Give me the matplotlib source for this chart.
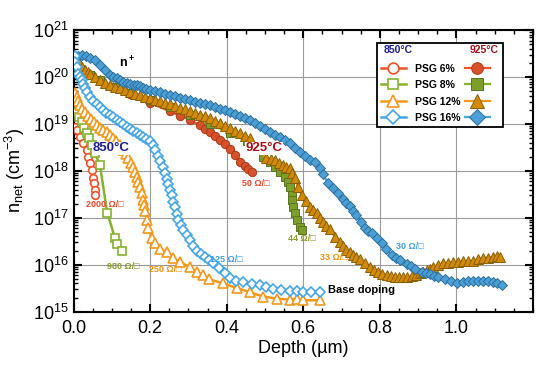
import matplotlib
matplotlib.use("Agg")
import matplotlib.pyplot as plt

plt.rcParams['font.family'] = ['Liberation Sans', 'DejaVu Sans']
plt.rcParams['mathtext.default'] = 'regular'

# depth (um) and net doping (cm^-3)
# 850 C
d6_850 = [0.004, 0.008, 0.017, 0.026, 0.034, 0.039, 0.043, 0.048, 0.052, 0.054, 0.056, 0.056]
n6_850 = [8.5e18, 7.4e18, 5.2e18, 3.9e18, 2.8e18, 2.0e18, 1.45e18, 1.02e18, 6.9e17, 5.5e17, 3.9e17, 3.0e17]

d8_850 = [0.008, 0.015, 0.021, 0.027, 0.034, 0.041, 0.048, 0.056, 0.069, 0.088, 0.108, 0.114, 0.126]
n8_850 = [1.8e19, 1.4e19, 1.1e19, 8.1e18, 6.3e18, 5.0e18, 3.5e18, 2.4e18, 1.32e18, 1.29e17, 3.8e16, 2.8e16, 1.95e16]

d12_850 = [0.004, 0.008, 0.012, 0.017, 0.023, 0.030, 0.038, 0.046, 0.054, 0.061,
           0.069, 0.077, 0.087, 0.095, 0.103, 0.111, 0.121, 0.129, 0.137, 0.143,
           0.150, 0.155, 0.161, 0.165, 0.168, 0.174, 0.178, 0.181, 0.184, 0.187,
           0.191, 0.195, 0.204, 0.213, 0.226, 0.243, 0.260, 0.278, 0.304, 0.322,
           0.338, 0.355, 0.390, 0.426, 0.461, 0.495, 0.531, 0.566, 0.583, 0.599, 0.643]
n12_850 = [4.5e19, 3.7e19, 3.1e19, 2.5e19, 2.1e19, 1.8e19, 1.5e19, 1.26e19, 1.1e19, 9.4e18,
           8.3e18, 7.4e18, 6.7e18, 5.8e18, 5.0e18, 4.3e18, 3.5e18, 2.8e18, 2.3e18, 1.9e18,
           1.46e18, 1.2e18, 9.4e17, 7.3e17, 5.7e17, 4.5e17, 3.3e17, 2.4e17, 1.86e17, 1.38e17,
           8.9e16, 6.0e16, 3.7e16, 2.9e16, 2.2e16, 1.85e16, 1.38e16, 1.13e16, 8.9e15, 7.0e15,
           6.0e15, 4.9e15, 4.0e15, 3.2e15, 2.6e15, 2.1e15, 1.9e15, 1.8e15, 1.9e15, 1.75e15, 1.75e15]

d16_850 = [0.004, 0.005, 0.008, 0.013, 0.017, 0.021, 0.026, 0.030, 0.036, 0.043,
           0.052, 0.061, 0.069, 0.077, 0.086, 0.095, 0.104, 0.113, 0.121, 0.129,
           0.139, 0.148, 0.156, 0.165, 0.173, 0.181, 0.190, 0.200, 0.207, 0.213,
           0.220, 0.226, 0.233, 0.239, 0.244, 0.248, 0.252, 0.256, 0.261, 0.265,
           0.270, 0.274, 0.281, 0.287, 0.296, 0.304, 0.313, 0.322, 0.333, 0.343,
           0.354, 0.364, 0.380, 0.396, 0.408, 0.425, 0.443, 0.465, 0.487, 0.504,
           0.521, 0.543, 0.566, 0.583, 0.599, 0.621, 0.643]
n16_850 = [2.8e20, 2.1e20, 1.6e20, 1.15e20, 1.0e20, 8.6e19, 7.0e19, 5.8e19, 4.7e19, 3.8e19,
           3.1e19, 2.6e19, 2.3e19, 2.0e19, 1.75e19, 1.55e19, 1.38e19, 1.24e19, 1.1e19, 9.9e18,
           8.8e18, 7.8e18, 7.0e18, 6.4e18, 5.8e18, 5.2e18, 4.7e18, 4.3e18, 3.5e18, 2.8e18,
           2.1e18, 1.6e18, 1.2e18, 8.9e17, 6.8e17, 5.2e17, 4.0e17, 3.0e17, 2.2e17, 1.68e17,
           1.2e17, 8.9e16, 6.9e16, 5.4e16, 4.2e16, 3.3e16, 2.55e16, 2.0e16, 1.7e16, 1.45e16,
           1.25e16, 1.08e16, 8.4e15, 6.6e15, 5.2e15, 4.6e15, 4.2e15, 3.9e15, 3.7e15, 3.3e15,
           3.0e15, 2.9e15, 2.8e15, 2.7e15, 2.6e15, 2.6e15, 2.6e15]

# 925 C
d6_925 = [0.004, 0.017, 0.038, 0.069, 0.108, 0.148, 0.200, 0.252, 0.278, 0.304, 0.330,
          0.343, 0.356, 0.369, 0.383, 0.396, 0.409, 0.421, 0.434, 0.447, 0.456, 0.465]
n6_925 = [2.1e20, 1.55e20, 1.15e20, 8.6e19, 6.0e19, 4.3e19, 2.8e19, 1.85e19, 1.5e19, 1.22e19, 9.3e18,
          7.8e18, 6.6e18, 5.6e18, 4.6e18, 3.7e18, 2.9e18, 2.15e18, 1.56e18, 1.26e18, 1.09e18, 9.4e17]

d8_925 = [0.004, 0.017, 0.043, 0.069, 0.108, 0.148, 0.200, 0.252, 0.304, 0.356, 0.409, 0.453, 0.495,
          0.513, 0.526, 0.539, 0.552, 0.561, 0.565, 0.570, 0.571, 0.573, 0.578, 0.583, 0.591, 0.596]
n8_925 = [1.9e20, 1.48e20, 1.1e20, 8.6e19, 6.1e19, 4.5e19, 3.2e19, 2.3e19, 1.55e19, 1.0e19, 6.4e18, 4.3e18, 1.96e18,
          1.54e18, 1.2e18, 9.4e17, 7.3e17, 5.7e17, 4.5e17, 3.0e17, 2.4e17, 1.68e17, 1.25e17, 8.9e16, 6.3e16, 5.4e16]

d12_925 = [0.007, 0.012, 0.017, 0.023, 0.030, 0.037, 0.043, 0.056, 0.069, 0.082,
           0.095, 0.108, 0.121, 0.134, 0.148, 0.161, 0.174, 0.187, 0.200, 0.213,
           0.226, 0.239, 0.252, 0.265, 0.278, 0.291, 0.304, 0.317, 0.330, 0.343,
           0.356, 0.369, 0.383, 0.396, 0.409, 0.421, 0.434, 0.447, 0.461,
           0.504, 0.515, 0.526, 0.537, 0.547, 0.556, 0.565, 0.571, 0.578, 0.586,
           0.596, 0.606, 0.617, 0.626, 0.635, 0.643, 0.651, 0.660, 0.669, 0.683,
           0.696, 0.705, 0.713, 0.722, 0.730, 0.739, 0.748, 0.761, 0.774, 0.785,
           0.796, 0.807, 0.818, 0.829, 0.839, 0.850, 0.860, 0.872, 0.883, 0.894,
           0.905, 0.914, 0.922, 0.931, 0.939, 0.952, 0.965, 0.978, 0.991, 1.004,
           1.017, 1.030, 1.043, 1.056, 1.069, 1.082, 1.095, 1.105, 1.114]
n12_925 = [2.5e20, 2.2e20, 1.9e20, 1.6e20, 1.4e20, 1.25e20, 1.15e20, 1.0e20, 8.6e19, 7.6e19,
           6.7e19, 6.2e19, 5.8e19, 5.2e19, 4.8e19, 4.4e19, 4.1e19, 3.8e19, 3.5e19, 3.3e19,
           3.1e19, 2.85e19, 2.6e19, 2.4e19, 2.2e19, 2.05e19, 1.9e19, 1.73e19, 1.58e19, 1.45e19,
           1.33e19, 1.18e19, 1.04e19, 9.2e18, 8.1e18, 7.2e18, 6.4e18, 5.6e18, 5.0e18,
           1.87e18, 1.78e18, 1.7e18, 1.5e18, 1.32e18, 1.23e18, 1.14e18, 9.0e17, 7.0e17, 4.5e17,
           3.0e17, 2.25e17, 1.7e17, 1.45e17, 1.25e17, 1.0e17, 8.2e16, 6.8e16, 5.7e16, 3.9e16,
           3.1e16, 2.55e16, 2.1e16, 1.85e16, 1.6e16, 1.45e16, 1.31e16, 1.08e16, 8.9e15, 7.9e15,
           7.0e15, 6.5e15, 6.0e15, 5.7e15, 5.5e15, 5.45e15, 5.4e15, 5.5e15, 5.7e15, 6.1e15,
           6.6e15, 7.1e15, 7.6e15, 8.3e15, 9.0e15, 1.0e16, 1.08e16, 1.1e16, 1.12e16, 1.15e16,
           1.18e16, 1.2e16, 1.22e16, 1.3e16, 1.38e16, 1.42e16, 1.47e16, 1.5e16, 1.47e16]

d16_925 = [0.012, 0.022, 0.033, 0.043, 0.056, 0.069, 0.082, 0.095, 0.104, 0.113,
           0.121, 0.129, 0.139, 0.148, 0.157, 0.165, 0.173, 0.181, 0.190, 0.200,
           0.213, 0.226, 0.239, 0.252, 0.265, 0.278, 0.291, 0.304, 0.317, 0.330,
           0.343, 0.356, 0.369, 0.383, 0.396, 0.409, 0.422, 0.434, 0.448, 0.461,
           0.474, 0.487, 0.500, 0.513, 0.526, 0.539, 0.552, 0.565, 0.578, 0.591,
           0.604, 0.617, 0.631, 0.644, 0.651, 0.665, 0.678, 0.691, 0.704, 0.713,
           0.722, 0.730, 0.739, 0.750, 0.761, 0.770, 0.779, 0.792, 0.805, 0.816,
           0.831, 0.842, 0.853, 0.870, 0.881, 0.892, 0.909, 0.920, 0.931, 0.942,
           0.952, 0.970, 0.985, 1.001, 1.017, 1.030, 1.043, 1.056, 1.069, 1.082,
           1.095, 1.107, 1.118]
n16_925 = [2.8e20, 2.9e20, 2.8e20, 2.5e20, 2.3e20, 1.8e20, 1.4e20, 1.1e20, 1.02e20, 9.5e19,
           8.6e19, 7.9e19, 7.5e19, 7.2e19, 6.9e19, 6.7e19, 6.3e19, 5.9e19, 5.6e19, 5.3e19,
           5.0e19, 4.7e19, 4.4e19, 4.1e19, 3.85e19, 3.6e19, 3.4e19, 3.2e19, 3.0e19, 2.8e19,
           2.65e19, 2.5e19, 2.3e19, 2.1e19, 1.95e19, 1.78e19, 1.62e19, 1.47e19, 1.33e19, 1.2e19,
           1.03e19, 8.9e18, 7.7e18, 6.7e18, 5.9e18, 5.2e18, 4.5e18, 3.9e18, 3.1e18, 2.5e18,
           2.05e18, 1.7e18, 1.55e18, 1.14e18, 8.5e17, 5.5e17, 4.3e17, 3.3e17, 2.5e17, 2.1e17,
           1.77e17, 1.42e17, 1.14e17, 8.3e16, 6.0e16, 5.3e16, 4.7e16, 3.7e16, 2.9e16, 2.2e16,
           1.6e16, 1.4e16, 1.25e16, 1.02e16, 9.2e15, 8.3e15, 7.0e15, 6.6e15, 6.3e15, 5.8e15,
           5.4e15, 4.9e15, 4.4e15, 4.0e15, 4.3e15, 4.4e15, 4.5e15, 4.5e15, 4.5e15, 4.4e15,
           4.3e15, 4.0e15, 3.7e15]

psg_labels = ["PSG 6%", "PSG 8%", "PSG 12%", "PSG 16%"]
line_cols = ["#f0502a", "#86b12e", "#f4981c", "#45a6e6"]
face_925 = ["#d9512a", "#7d9e2a", "#d18a08", "#4a9fd6"]
edge_925 = ["#a83a18", "#5a7420", "#8c5e00", "#2d6f9e"]
markers = ["o", "s", "^", "D"]
msize = [5.5, 5.5, 6.5, 5.0]

data_850 = [(d6_850, n6_850), (d8_850, n8_850), (d12_850, n12_850), (d16_850, n16_850)]
data_925 = [(d6_925, n6_925), (d8_925, n8_925), (d12_925, n12_925), (d16_925, n16_925)]

fig = plt.figure(figsize=(5.54, 3.81), dpi=100)
ax = fig.add_axes([0.1327, 0.182, 0.8293, 0.739])

h925 = []
for i, (d, n) in enumerate(data_925):
    l, = ax.plot(d, n, color=line_cols[i], lw=1.6, marker=markers[i], ms=msize[i] + 0.5,
                 mfc=face_925[i], mec=edge_925[i], mew=0.7, zorder=2)
    h925.append(l)

h850 = []
for i, (d, n) in enumerate(data_850):
    l, = ax.plot(d, n, color=line_cols[i], lw=1.8, marker=markers[i], ms=msize[i],
                 mfc="white", mec=line_cols[i], mew=1.2, zorder=3)
    h850.append(l)

ax.set_yscale("log")
ax.set_ylim(1e15, 1e21)
ax.set_xlim(0, 1.2)
ax.set_xticks([0.0, 0.2, 0.4, 0.6, 0.8, 1.0])
ax.set_xticks([i * 0.05 for i in range(25)], minor=True)
ax.set_xticklabels(["0.0", "0.2", "0.4", "0.6", "0.8", "1.0"])
ax.grid(True, which="major", color="#9a9a9a", lw=0.8)
ax.set_axisbelow(True)
ax.tick_params(which="both", direction="in", top=True, right=True, labelsize=13)
ax.tick_params(axis="x", pad=6)
ax.tick_params(which="major", length=6, width=1.5)
ax.tick_params(which="minor", length=3, width=1)
for s in ax.spines.values():
    s.set_linewidth(1.5)

ax.set_xlabel("Depth (µm)", fontsize=13, labelpad=2)
ax.set_ylabel("n$_{net}$ (cm$^{-3}$)", fontsize=13)

# annotations
ann = dict(fontsize=6.5, fontweight="bold", ha="center", va="center", zorder=6)
ax.text(0.082, 1.9e17, "2000 Ω/□", color="#e8452a", **ann)
ax.text(0.129, 9.0e15, "980 Ω/□", color="#8a9a30", **ann)
ax.text(0.239, 7.9e15, "250 Ω/□", color="#f0900e", **ann)
ax.text(0.398, 1.32e16, "125 Ω/□", color="#3f9fe0", **ann)
ax.text(0.477, 5.5e17, "50 Ω/□", color="#e8452a", **ann)
ax.text(0.597, 3.7e16, "44 Ω/□", color="#8a9a30", **ann)
ax.text(0.680, 1.45e16, "33 Ω/□", color="#f0900e", **ann)
ax.text(0.879, 2.45e16, "30 Ω/□", color="#3f9fe0", **ann)
ax.text(0.665, 2.9e15, "Base doping", fontsize=8, fontweight="bold", ha="left", va="center", zorder=6)
ax.text(0.141, 2.0e20, "n$^+$", fontsize=9, fontweight="bold", ha="center", va="center", zorder=6)
box = dict(facecolor="white", edgecolor="none", pad=0.5)
ax.text(0.098, 3.0e18, "850°C", color="#1c1c8c", fontsize=9.5, fontweight="bold",
        ha="center", va="center", zorder=6, bbox=box)
ax.text(0.498, 3.0e18, "925°C", color="#a01018", fontsize=9.5, fontweight="bold",
        ha="center", va="center", zorder=6, bbox=box)

leg = ax.legend(h850 + h925, psg_labels + [""] * 4, ncol=2, loc="upper left",
                bbox_to_anchor=(0.660, 0.954), borderaxespad=0, title=" ", title_fontsize=7,
                prop={"size": 7.5, "weight": "bold"}, markerscale=1.4,
                handlelength=2.4, handletextpad=0.9, columnspacing=0.4,
                labelspacing=0.62, borderpad=0.4, fancybox=False, framealpha=1)
leg.get_frame().set_edgecolor("black")
leg.get_frame().set_linewidth(1.3)
leg.set_zorder(10)
ax.text(0.674, 0.929, "850°C", transform=ax.transAxes, color="#1c1c8c", fontsize=7.5,
        fontweight="bold", ha="left", va="center", zorder=11)
ax.text(0.926, 0.929, "925°C", transform=ax.transAxes, color="#a01018", fontsize=7.5,
        fontweight="bold", ha="right", va="center", zorder=11)

fig.savefig("out.png", dpi=100)
